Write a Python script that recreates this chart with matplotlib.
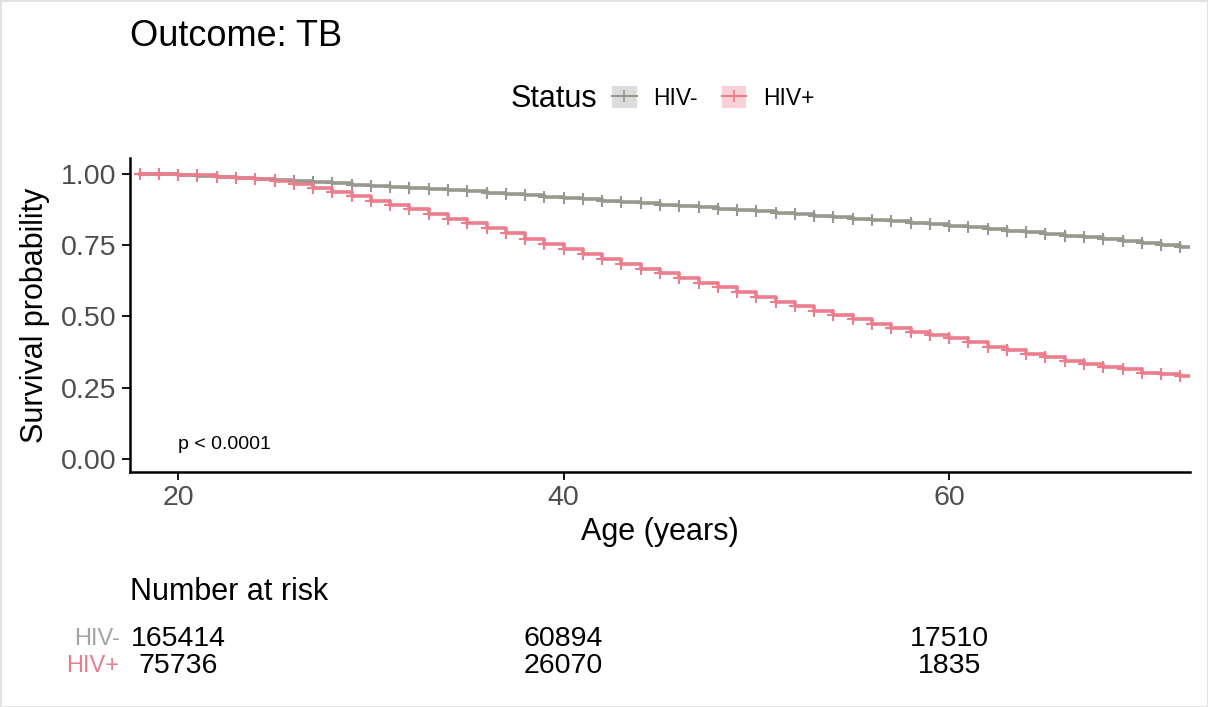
import numpy as np
import matplotlib
matplotlib.use("Agg")
import matplotlib.pyplot as plt
from matplotlib.lines import Line2D
from matplotlib.patches import Patch

plt.rcParams['font.family'] = ['Liberation Sans', 'DejaVu Sans']

# data
ages = list(range(18, 73))
surv_neg = [1.000, 0.998, 0.995, 0.992, 0.989, 0.986, 0.982, 0.978, 0.974, 0.970,
            0.966, 0.962, 0.958, 0.954, 0.950, 0.946, 0.942, 0.938, 0.933, 0.929,
            0.924, 0.920, 0.915, 0.911, 0.906, 0.902, 0.897, 0.892, 0.888, 0.883,
            0.878, 0.873, 0.868, 0.863, 0.858, 0.853, 0.848, 0.843, 0.838, 0.833,
            0.828, 0.823, 0.818, 0.812, 0.807, 0.801, 0.795, 0.789, 0.783, 0.777,
            0.771, 0.765, 0.758, 0.751, 0.744]
surv_pos = [1.000, 0.999, 0.997, 0.994, 0.990, 0.986, 0.981, 0.974, 0.965, 0.951,
            0.937, 0.923, 0.905, 0.891, 0.877, 0.860, 0.842, 0.828, 0.810, 0.793,
            0.772, 0.754, 0.737, 0.719, 0.702, 0.684, 0.667, 0.653, 0.635, 0.618,
            0.604, 0.586, 0.568, 0.551, 0.537, 0.519, 0.505, 0.491, 0.474, 0.460,
            0.446, 0.435, 0.425, 0.410, 0.393, 0.382, 0.368, 0.358, 0.344, 0.333,
            0.323, 0.316, 0.302, 0.298, 0.292]
groups = ["HIV-", "HIV+"]
risk_times = [20, 40, 60]
risk_neg = [165414, 60894, 17510]
risk_pos = [75736, 26070, 1835]

col_neg = "#98988f"
col_pos = "#ec7d8c"
fill_neg = "#dcdcdc"
fill_pos = "#f9d0d6"

W, H = 1208, 707
fig = plt.figure(figsize=(W / 100, H / 100), dpi=100)
fig.patch.set_edgecolor("#e2e2e2")
fig.patch.set_linewidth(2)

def fx(px):
    return px / W

def fy(py):
    return 1 - py / H

xmin, xmax = 17.5, 72.5
ax = fig.add_axes([fx(130), fy(472), fx(1190) - fx(130), fy(158) - fy(472)])

for vals, col in [(surv_neg, col_neg), (surv_pos, col_pos)]:
    xs = ages + [xmax]
    ys = vals + [vals[-1]]
    ax.step(xs, ys, where="post", color=col, lw=2.6, zorder=3)
    ax.plot(ages, vals, ls="none", marker="+", ms=9, mew=1.5, color=col, zorder=4)

ax.set_xlim(xmin, xmax)
ax.set_ylim(-0.045, 1.055)
ax.set_xticks([20, 40, 60])
ax.set_yticks([0, 0.25, 0.5, 0.75, 1.0])
ax.set_yticklabels(["0.00", "0.25", "0.50", "0.75", "1.00"])
ax.tick_params(labelsize=20.5, labelcolor="#4d4d4d", length=6, width=1.3, color="black")
for s in ["top", "right"]:
    ax.spines[s].set_visible(False)
for s in ["left", "bottom"]:
    ax.spines[s].set_linewidth(1.8)
ax.set_xlabel("Age (years)", fontsize=22, labelpad=4)
ax.set_ylabel("Survival probability", fontsize=22, labelpad=8)
ax.text(20, 0.05, "p < 0.0001", fontsize=14, ha="left", va="center")

fig.text(fx(130), fy(37), "Outcome: TB", fontsize=26, ha="left", va="center")

# legend
fig.text(fx(511), fy(99), "Status", fontsize=22, ha="left", va="center")
handles = [(Patch(facecolor=fill_neg, edgecolor="none"),
            Line2D([], [], color=col_neg, lw=1.5, marker="+", ms=9, mew=1.2)),
           (Patch(facecolor=fill_pos, edgecolor="none"),
            Line2D([], [], color=col_pos, lw=1.5, marker="+", ms=9, mew=1.2))]
fig.legend(handles, groups, loc="center left", bbox_to_anchor=(fx(601), fy(98)),
           ncol=2, frameon=False, fontsize=16.5, handlelength=1.05, handleheight=1.05,
           handletextpad=0.74, columnspacing=1.05, borderpad=0)

# risk table
fig.text(fx(130), fy(592), "Number at risk", fontsize=22, ha="left", va="center")
rax = fig.add_axes([fx(130), fy(680), fx(1190) - fx(130), fy(625) - fy(680)])
rax.set_xlim(xmin, xmax)
rax.set_ylim(0, 1)
rax.axis("off")
for row, (lab, counts, col) in enumerate([(groups[0], risk_neg, "#a3a3a3"),
                                          (groups[1], risk_pos, "#e27f8d")]):
    yy = 0.75 - row * 0.5
    for t, n in zip(risk_times, counts):
        rax.text(t, yy, str(n), fontsize=20.5, ha="center", va="center")
    rax.text(-0.01, yy, lab, transform=rax.transAxes, fontsize=17, color=col,
             ha="right", va="center")

fig.savefig("out.png", dpi=100)
